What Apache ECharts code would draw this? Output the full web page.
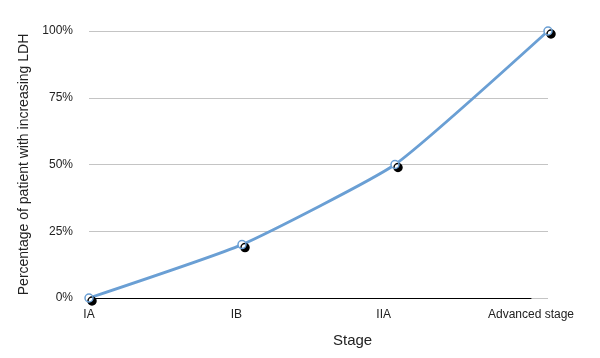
<!DOCTYPE html>
<html><head><meta charset="utf-8">
<script src="https://cdn.jsdelivr.net/npm/echarts@6/dist/echarts.min.js"></script>
<style>html,body{margin:0;padding:0;background:#fff}#c{width:600px;height:358px}</style>
</head><body><div id="c"></div>
<script>
const categories = ['IA', 'IB', 'IIA', 'Advanced stage'];
const values = [0, 20, 50, 100];
const yTicks = [0, 25, 50, 75, 100];

const chart = echarts.init(document.getElementById('c'), null, {renderer: 'canvas'});
const font = 'Liberation Sans, Arial, sans-serif';
chart.setOption({
  animation: false,
  backgroundColor: '#fff',
  grid: [
    {left: 89, right: 52, top: 31, bottom: 60},
    {left: 89, right: 69, top: 31, bottom: 60}
  ],
  xAxis: [
    {gridIndex: 0, type: 'category', data: categories, boundaryGap: false,
     axisLine: {show: false}, axisTick: {show: false}, axisLabel: {show: false}},
    {gridIndex: 1, type: 'category', data: categories, boundaryGap: false,
     axisLine: {show: true, lineStyle: {color: '#000', width: 1}}, axisTick: {show: false},
     axisLabel: {color: '#222', fontSize: 12, fontFamily: font, margin: 11}}
  ],
  yAxis: [
    {gridIndex: 0, type: 'value', min: yTicks[0], max: yTicks[yTicks.length - 1], interval: 25,
     name: 'Percentage of patient with increasing LDH', nameLocation: 'middle', nameGap: 53,
     nameTextStyle: {color: '#222', fontSize: 14, fontFamily: font},
     axisLine: {show: false}, axisTick: {show: false},
     axisLabel: {formatter: '{value}%', color: '#222', fontSize: 12, fontFamily: font, margin: 16},
     splitLine: {show: true, lineStyle: {color: '#c4c4c4', width: 1}}},
    {gridIndex: 1, type: 'value', min: 0, max: 100, show: false}
  ],
  graphic: [{
    type: 'text', left: 333, top: 333,
    style: {text: 'Stage', fontSize: 15, fontFamily: font, fill: '#222'}
  }],
  series: [{
    type: 'line', xAxisIndex: 0, yAxisIndex: 0, data: values,
    smooth: 0.15,
    symbol: 'circle', symbolSize: 8,
    lineStyle: {color: '#6a9fd4', width: 2.8},
    itemStyle: {color: '#fff', borderColor: '#6a9fd4', borderWidth: 1.5,
      shadowColor: '#000', shadowBlur: 0, shadowOffsetX: 3, shadowOffsetY: 3},
    z: 3
  }]
});
</script></body></html>
